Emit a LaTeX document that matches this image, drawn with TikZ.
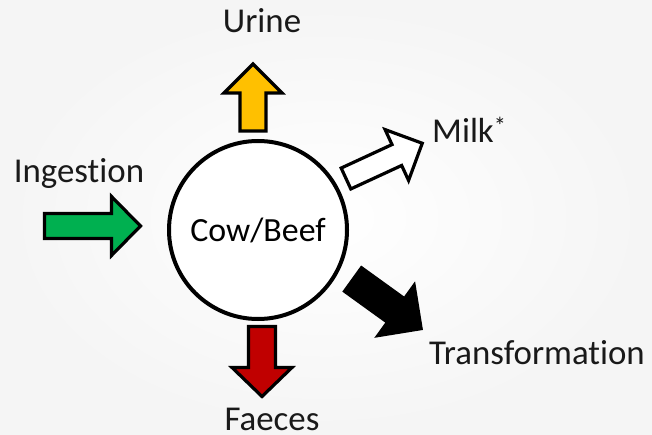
\documentclass[tikz,border=0pt]{standalone}
\usepackage{fontspec}
\setmainfont{Carlito}[Ligatures={NoCommon,NoRequired,NoContextual}]
\newcommand{\nolig}{\kern0pt{}}
\begin{document}
\begin{tikzpicture}[x=1bp,y=-1bp,
  lbl/.style={font=\fontsize{35}{40}\selectfont, inner sep=0pt, text=black!90},
  cowstyle/.style={circle, draw=black, line width=4bp, fill=white, minimum size=178bp, inner sep=0pt, font=\fontsize{34}{40}\selectfont},
  arr/.style={draw=black, line width=3.2bp, line join=miter},
  pics/barrow/.style n args={4}{code={%
    \draw[pic actions] (0,-#2/2) -- (#1-#4,-#2/2) -- (#1-#4,-#3/2) -- (#1,0)
      -- (#1-#4,#3/2) -- (#1-#4,#2/2) -- (0,#2/2) -- cycle;}}]
\shade[inner color=white, outer color=black!4] (0,0) rectangle (652,435);
\useasboundingbox (0,0) rectangle (652,435);

\node[cowstyle] (cow) at (258,230) {Cow/Beef};

\coordinate (tu) at (253,131);
\coordinate (ti) at (44.5,226);
\coordinate (tf) at (262,326.5);
\coordinate (tm) at (346,178.5);
\coordinate (tt) at (353,279.5);

\pic[arr, fill={rgb,255:red,255;green,192;blue,0}, rotate=90] at (tu) {barrow={67}{26}{58}{29}};
\pic[arr, fill={rgb,255:red,0;green,176;blue,80}] at (ti) {barrow={96}{25}{59}{29}};
\pic[arr, fill={rgb,255:red,192;green,0;blue,0}, rotate=-90] at (tf) {barrow={70}{27}{60}{29}};
\pic[arr, fill=white, rotate=24.8] at (tm) {barrow={84}{23}{56}{28}};
\pic[arr, fill=black, rotate=-35.8] at (tt) {barrow={84}{29}{62}{31}};

\node[lbl, anchor=base] (urine) at (262,33) {Urine};
\node[lbl, anchor=base] (ing) at (79,183) {Ingest\nolig ion};
\node[lbl, anchor=base west] (milk) at (432,143) {Milk\textsuperscript{*}};
\node[lbl, anchor=base] (trans) at (537,364) {Transformat\nolig ion};
\node[lbl, anchor=base] (faeces) at (272,430) {Faeces};
\end{tikzpicture}
\end{document}
